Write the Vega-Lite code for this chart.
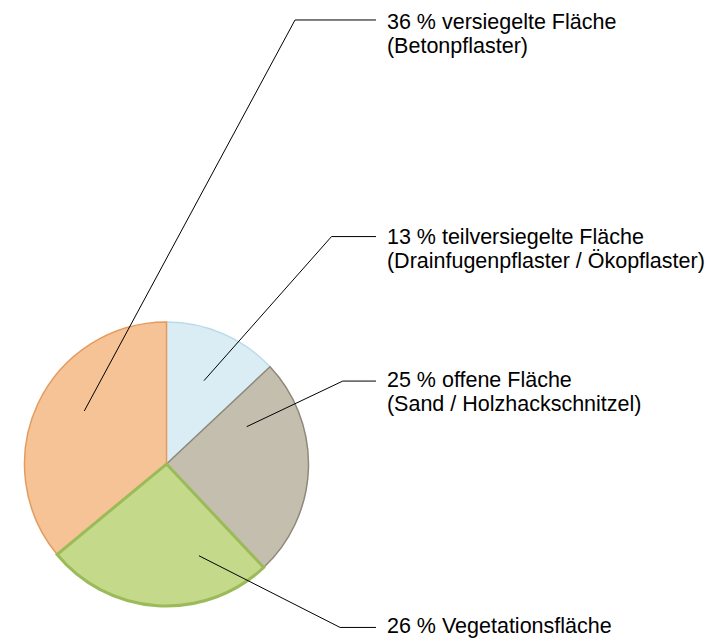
{
  "$schema": "https://vega.github.io/schema/vega-lite/v6.json",
  "width": 709,
  "height": 644,
  "autosize": {"type": "none"},
  "padding": 0,
  "background": "#ffffff",
  "config": {"view": {"stroke": null}},
  "datasets": {
    "slices": [
      {"key": "teil", "value": 13, "idx": 1},
      {"key": "offen", "value": 25, "idx": 2},
      {"key": "versiegelt", "value": 36, "idx": 4},
      {"key": "veg", "value": 26, "idx": 3}
    ],
    "leaders": [
      {"key": "versiegelt", "ord": 1, "u": -0.577, "v": 0.372},
      {"key": "versiegelt", "ord": 2, "u": 0.902, "v": 3.116},
      {"key": "versiegelt", "ord": 3, "u": 1.47, "v": 3.116},
      {"key": "teil", "ord": 1, "u": 0.263, "v": 0.585},
      {"key": "teil", "ord": 2, "u": 1.158, "v": 1.596},
      {"key": "teil", "ord": 3, "u": 1.47, "v": 1.596},
      {"key": "offen", "ord": 1, "u": 0.563, "v": 0.262},
      {"key": "offen", "ord": 2, "u": 1.237, "v": 0.582},
      {"key": "offen", "ord": 3, "u": 1.47, "v": 0.582},
      {"key": "veg", "ord": 1, "u": 0.228, "v": -0.644},
      {"key": "veg", "ord": 2, "u": 1.218, "v": -1.147},
      {"key": "veg", "ord": 3, "u": 1.47, "v": -1.147}
    ],
    "labels": [
      {"key": "versiegelt", "line1": "36 % versiegelte Fläche", "line2": "(Betonpflaster)", "u": 1.547, "v": 3.095},
      {"key": "teil", "line1": "13 % teilversiegelte Fläche", "line2": "(Drainfugenpflaster / Ökopflaster)", "u": 1.547, "v": 1.589},
      {"key": "offen", "line1": "25 % offene Fläche", "line2": "(Sand / Holzhackschnitzel)", "u": 1.547, "v": 0.579},
      {"key": "veg", "line1": "26 % Vegetationsfläche", "line2": "", "u": 1.547, "v": -1.147}
    ]
  },
  "layer": [
    {
      "data": {"name": "slices"},
      "mark": {"type": "arc", "outerRadius": 142},
      "encoding": {
        "x": {"datum": 0, "type": "quantitative", "scale": {"domain": [-1.16842, 3.80702], "nice": false, "zero": false}, "axis": null},
        "y": {"datum": 0, "type": "quantitative", "scale": {"domain": [-1.26316, 3.25614], "nice": false, "zero": false}, "axis": null},
        "theta": {"field": "value", "type": "quantitative", "stack": true},
        "order": {"field": "idx", "type": "quantitative"},
        "color": {
          "field": "key", "type": "nominal", "legend": null,
          "scale": {"domain": ["teil", "offen", "veg", "versiegelt"], "range": ["#DAEDF4", "#C4BEAF", "#C5D98B", "#F6C396"]}
        },
        "stroke": {
          "field": "key", "type": "nominal", "legend": null,
          "scale": {"domain": ["teil", "offen", "veg", "versiegelt"], "range": ["#B8DCE8", "#8E8878", "#9BBB59", "#E59B5E"]}
        },
        "strokeWidth": {"condition": {"test": "datum.key === 'veg'", "value": 3}, "value": 1.5}
      }
    },
    {
      "data": {"name": "leaders"},
      "mark": {"type": "line", "color": "#000000", "strokeWidth": 1},
      "encoding": {
        "x": {"field": "u", "type": "quantitative", "axis": null},
        "y": {"field": "v", "type": "quantitative", "axis": null},
        "detail": {"field": "key"},
        "order": {"field": "ord", "type": "quantitative"}
      }
    },
    {
      "data": {"name": "labels"},
      "mark": {"type": "text", "align": "left", "baseline": "middle", "font": "Liberation Sans", "fontSize": 21.5, "color": "#000000"},
      "encoding": {
        "x": {"field": "u", "type": "quantitative", "axis": null},
        "y": {"field": "v", "type": "quantitative", "axis": null},
        "text": {"field": "line1"}
      }
    },
    {
      "data": {"name": "labels"},
      "mark": {"type": "text", "align": "left", "baseline": "middle", "font": "Liberation Sans", "fontSize": 21.5, "color": "#000000", "dy": 24},
      "encoding": {
        "x": {"field": "u", "type": "quantitative", "axis": null},
        "y": {"field": "v", "type": "quantitative", "axis": null},
        "text": {"field": "line2"}
      }
    }
  ]
}
